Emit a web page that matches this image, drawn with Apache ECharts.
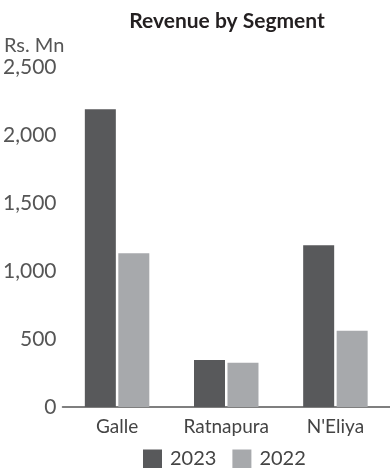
<!DOCTYPE html>
<html>
<head>
<meta charset="utf-8">
<script src="https://cdn.jsdelivr.net/npm/echarts@6/dist/echarts.min.js"></script>
<style>
  html, body { margin: 0; padding: 0; background: #fff; }
  #chart { width: 390px; height: 468px; }
</style>
</head>
<body>
<div id="chart"></div>
<script>
// Segment revenue, Rs. Mn
const segments = ['Galle', 'Ratnapura', "N'Eliya"];
const revenue2023 = [2190, 345, 1190];
const revenue2022 = [1130, 325, 560];
const yTicks = [0, 500, 1000, 1500, 2000, 2500];

const FONT = 'Lato';
const chart = echarts.init(document.getElementById('chart'), null, { renderer: 'canvas' });

chart.setOption({
  animation: false,
  backgroundColor: '#ffffff',
  title: [
    {
      text: 'Revenue by Segment',
      left: 222,
      textAlign: 'center',
      top: 6,
      textStyle: { fontFamily: FONT, fontWeight: 'bold', fontSize: 21, color: '#231f20' }
    },
    {
      text: 'Rs. Mn',
      left: -1,
      top: 31,
      textStyle: { fontFamily: FONT, fontWeight: 'normal', fontSize: 20, color: '#555' }
    }
  ],
  legend: {
    left: 143,
    top: 449,
    padding: 0,
    itemWidth: 19,
    itemHeight: 19,
    itemGap: 16,
    icon: 'rect',
    textStyle: { fontFamily: FONT, fontSize: 20, color: '#444', padding: [0, 0, 0, 3] },
    data: ['2023', '2022']
  },
  grid: { left: 62, right: -5, top: 67, bottom: 61, containLabel: false },
  xAxis: {
    type: 'category',
    data: segments,
    axisLine: { show: true, lineStyle: { color: '#555', width: 1.5 } },
    axisTick: { show: false },
    axisLabel: { interval: 0, hideOverlap: false, fontFamily: FONT, fontSize: 19, color: '#444', margin: 10 }
  },
  yAxis: {
    type: 'value',
    min: yTicks[0],
    max: yTicks[yTicks.length - 1],
    interval: yTicks[1] - yTicks[0],
    axisLine: { show: false },
    axisTick: { show: false },
    splitLine: { show: false },
    axisLabel: {
      fontFamily: FONT,
      fontSize: 21,
      color: '#555',
      margin: 6,
      formatter: v => v.toLocaleString('en-US')
    }
  },
  series: [
    {
      name: '2023',
      type: 'bar',
      data: revenue2023,
      barWidth: 31,
      barGap: '8%',
      itemStyle: { color: '#58595b' }
    },
    {
      name: '2022',
      type: 'bar',
      data: revenue2022,
      barWidth: 31,
      itemStyle: { color: '#a7a9ac' }
    }
  ]
});
</script>
</body>
</html>
